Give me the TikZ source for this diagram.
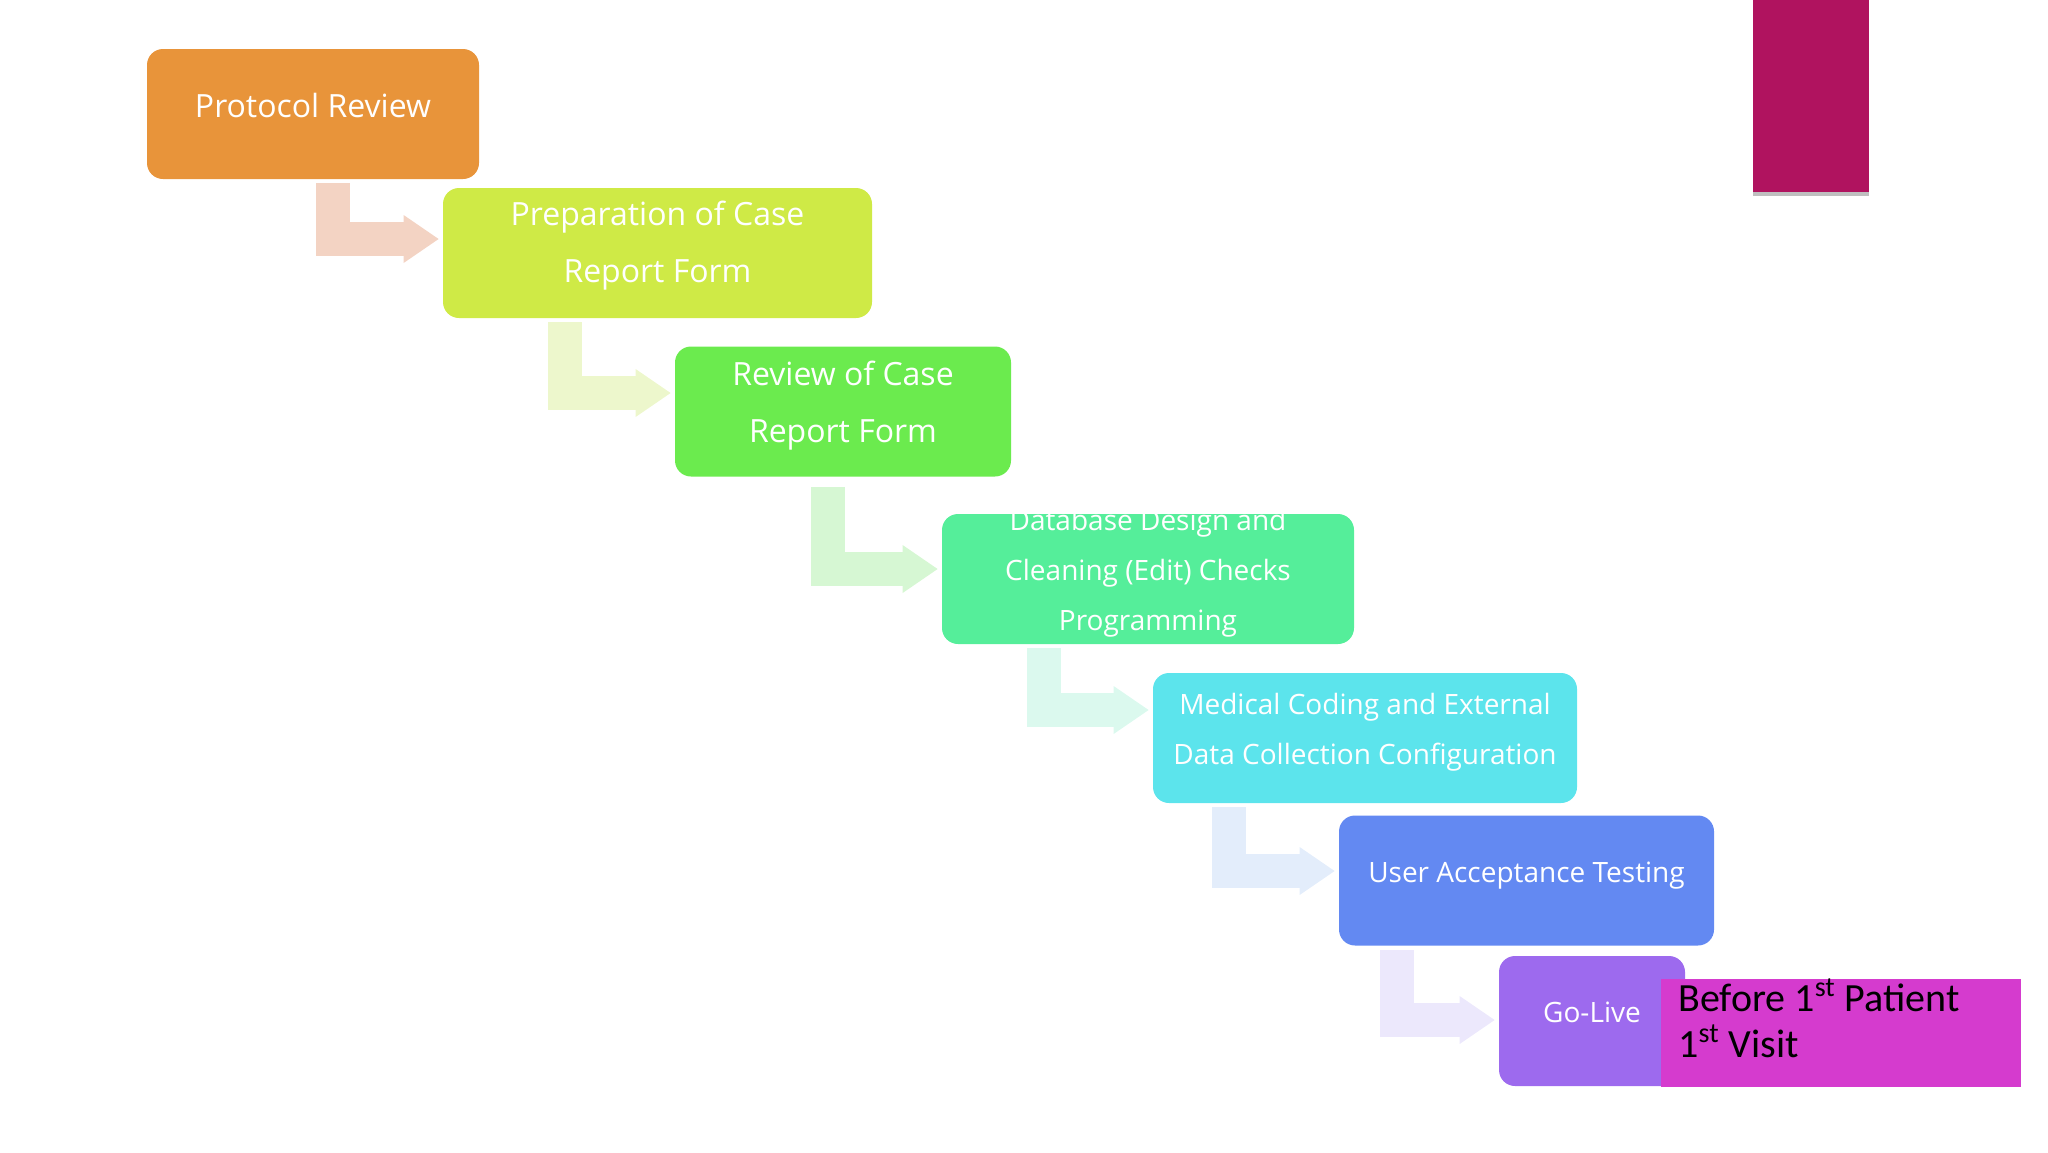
\documentclass[tikz,border=0pt]{standalone}
\usepackage{fontspec}
\setmainfont{Open Sans}
\newfontfamily\notefont{Carlito}
\usetikzlibrary{arrows.meta,calc}

\definecolor{protocolC}{HTML}{E8943A}
\definecolor{prepC}{HTML}{CFEA46}
\definecolor{reviewC}{HTML}{6BEB4E}
\definecolor{databaseC}{HTML}{55EE9A}
\definecolor{codingC}{HTML}{5CE4EC}
\definecolor{uatC}{HTML}{6389F2}
\definecolor{goliveC}{HTML}{9D6AEE}
\definecolor{milestoneC}{HTML}{D53BCE}
\definecolor{markerC}{HTML}{B0135F}
\definecolor{arrowA}{HTML}{F3D3C3}
\definecolor{arrowB}{HTML}{EDF7CC}
\definecolor{arrowC}{HTML}{D6F7D3}
\definecolor{arrowD}{HTML}{DBF9EE}
\definecolor{arrowE}{HTML}{E3EDFB}
\definecolor{arrowF}{HTML}{ECE8FC}

\tikzset{
  stepbox/.style={rectangle, rounded corners=8pt, inner sep=0pt, minimum height=65pt},
  steptext/.style={text=white, align=center, inner sep=0pt},
  bigtext/.style={font=\fontsize{16}{28.5}\selectfont},
  smalltext/.style={font=\fontsize{14}{25}\selectfont},
  bentarrow/.style={line width=17pt, -{Triangle[width=24pt,length=17.5pt,line width=0pt]}},
}

\begin{document}
\begin{tikzpicture}[x=0.5pt,y=-0.5pt]
    \useasboundingbox (0,0) rectangle (2048,1152);

    % process steps
    \node[stepbox, fill=protocolC, minimum width=166pt] (protocol) at (313,114) {};
    \node[stepbox, fill=prepC, minimum width=214.5pt] (prep) at (657.5,253) {};
    \node[stepbox, fill=reviewC, minimum width=168pt] (review) at (843,411.5) {};
    \node[stepbox, fill=databaseC, minimum width=206pt] (database) at (1148,579) {};
    \node[stepbox, fill=codingC, minimum width=212pt] (coding) at (1365,738) {};
    \node[stepbox, fill=uatC, minimum width=187.5pt] (uat) at (1526.5,880.5) {};
    \node[stepbox, fill=goliveC, minimum width=93pt] (golive) at (1592,1021) {};

    % labels
    \node[steptext, bigtext] (protocol_text) at (313,105) {Protocol Review};
    \node[steptext, bigtext] (prep_text) at (657.5,246) {Preparation of Case\\Report Form};
    \node[steptext, bigtext] (review_text) at (843,406) {Review of Case\\Report Form};
    \begin{scope}
        \clip[rounded corners=8pt] (database.south west) rectangle (database.north east);
        \node[steptext, smalltext] (database_text) at (1148,573) {Database Design and\\Cleaning (Edit) Checks\\Programming};
    \end{scope}
    \node[steptext, smalltext] (coding_text) at (1365,732) {Medical Coding and External\\Data Collection Configuration};
    \node[steptext, smalltext] (uat_text) at (1526.5,875.5) {User Acceptance Testing};
    \node[steptext, smalltext] (golive_text) at (1592,1012) {Go-Live};

    % bent arrows
    \draw[bentarrow, draw=arrowA] ($(protocol.south -| prep.west)+(-110,4)$) |- ($(prep.west)+(-4,-14)$);
    \draw[bentarrow, draw=arrowB] ($(prep.south -| review.west)+(-110,4)$) |- ($(review.west)+(-4,-18.5)$);
    \draw[bentarrow, draw=arrowC] ($(review.south -| database.west)+(-114,10)$) |- ($(database.west)+(-4,-10)$);
    \draw[bentarrow, draw=arrowD] ($(database.south -| coding.west)+(-109,4)$) |- ($(coding.west)+(-4,-28)$);
    \draw[bentarrow, draw=arrowE] ($(coding.south -| uat.west)+(-110,4)$) |- ($(uat.west)+(-4,-9.5)$);
    \draw[bentarrow, draw=arrowF] ($(uat.south -| golive.west)+(-102,4)$) |- ($(golive.west)+(-4,-1)$);

    % milestone note
    \node[fill=milestoneC, minimum width=180pt, minimum height=54pt, inner sep=0pt] (milestone) at (1841,1033) {};
    \node[anchor=north west, align=left, inner sep=0pt, font=\notefont\fontsize{20}{23}\selectfont] (milestone_text) at (1678,978) {Before 1\textsuperscript{st} Patient\\1\textsuperscript{st} Visit};

    % corner marker
    \node[fill=black!25, minimum width=58pt, minimum height=98pt, inner sep=0pt] (marker_shadow) at (1811,98) {};
    \node[fill=markerC, minimum width=58pt, minimum height=96pt, inner sep=0pt] (marker) at (1811,96) {};
\end{tikzpicture}
\end{document}
